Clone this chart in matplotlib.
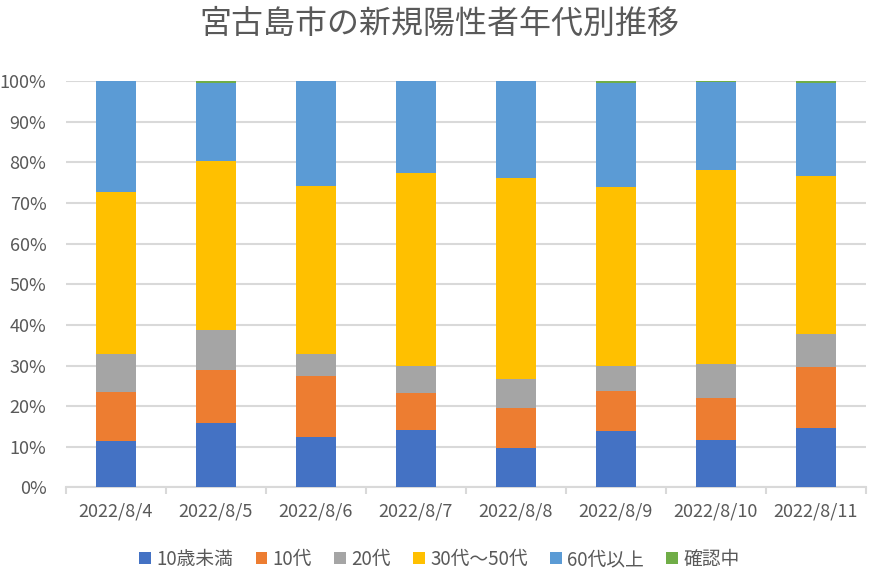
import matplotlib
matplotlib.use("Agg")
import matplotlib.pyplot as plt
import numpy as np
from matplotlib.ticker import FixedLocator, PercentFormatter

plt.rcParams['font.family'] = ['Noto Sans CJK JP', 'DejaVu Sans']

dates = ["2022/8/4", "2022/8/5", "2022/8/6", "2022/8/7", "2022/8/8", "2022/8/9", "2022/8/10", "2022/8/11"]
series_names = ["10歳未満", "10代", "20代", "30代～50代", "60代以上", "確認中"]
under10 = [11.4, 15.9, 12.4, 14.2, 9.8, 13.9, 11.8, 14.7]
teens = [12.2, 13.1, 15.1, 9.0, 9.8, 9.8, 10.3, 14.9]
twenties = [9.3, 9.8, 5.4, 6.8, 7.1, 6.3, 8.4, 8.2]
age30_50 = [39.8, 41.5, 41.3, 47.4, 49.4, 43.9, 47.6, 38.8]
over60 = [27.3, 19.1, 25.8, 22.6, 23.9, 25.5, 21.65, 22.8]
unknown = [0.0, 0.6, 0.0, 0.0, 0.0, 0.6, 0.25, 0.6]

colors = ["#4472C4", "#ED7D31", "#A5A5A5", "#FFC000", "#5B9BD5", "#70AD47"]
series = [under10, teens, twenties, age30_50, over60, unknown]

fig = plt.figure(figsize=(8.79, 5.78), dpi=100)
ax = fig.add_axes([0.075, 0.1566, 0.910, 0.7033])

x = np.arange(len(dates))
totals = np.sum(np.array(series), axis=0)
bottom = np.zeros(len(dates))
for name, vals, c in zip(series_names, series, colors):
    v = np.array(vals) / totals
    ax.bar(x, v, 0.4, bottom=bottom, color=c, label=name, zorder=3)
    bottom += v

ax.set_xlim(-0.5, len(dates) - 0.5)
ax.set_ylim(0, 1)
ax.yaxis.set_major_locator(FixedLocator(np.arange(0, 1.01, 0.1)))
ax.yaxis.set_major_formatter(PercentFormatter(1.0, decimals=0))
ax.grid(axis='y', color='#D9D9D9', linewidth=1.5, zorder=0)
ax.set_axisbelow(True)
for s in ['top', 'right', 'left']:
    ax.spines[s].set_visible(False)
ax.spines['bottom'].set_color('#D9D9D9')
ax.spines['bottom'].set_linewidth(1.5)
ax.set_xticks(x)
ax.set_xticklabels(dates)
ax.xaxis.set_minor_locator(FixedLocator(np.arange(-0.5, len(dates), 1.0)))
ax.tick_params(axis='x', which='major', length=0, pad=11, labelsize=13, labelcolor='#595959')
ax.tick_params(axis='x', which='minor', length=5, width=1.5, color='#D9D9D9')
ax.tick_params(axis='y', length=0, pad=14, labelsize=13, labelcolor='#595959')

fig.text(0.5, 0.958, "宮古島市の新規陽性者年代別推移", ha='center', va='center', fontsize=23, color='#595959')

leg = fig.legend(loc='center', bbox_to_anchor=(0.5, 0.032), ncol=6, frameon=False,
                 fontsize=13.5, handlelength=0.6, handleheight=0.6, handletextpad=0.3,
                 columnspacing=1.2, labelcolor='#595959')

fig.savefig("out.png", dpi=100)
